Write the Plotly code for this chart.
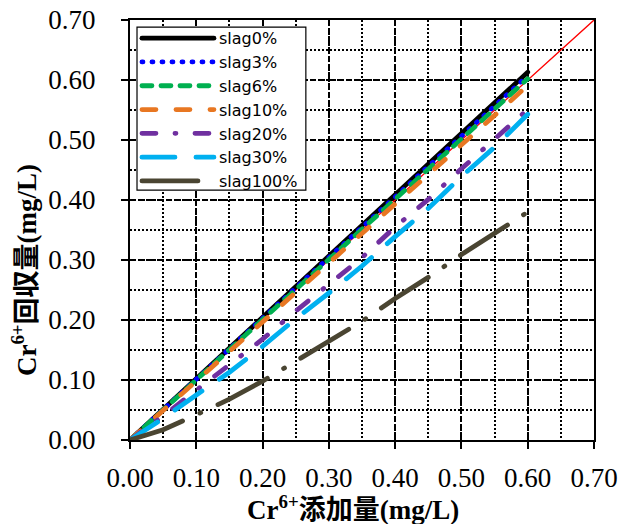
import plotly.graph_objects as go

# Cr6+ added (mg/L)
added = [0.00, 0.05, 0.10, 0.15, 0.20, 0.25, 0.30, 0.35, 0.40, 0.45, 0.50, 0.55, 0.60]

# Cr6+ recovered (mg/L) for each slag ratio
slag0 = [0.000, 0.051, 0.102, 0.153, 0.204, 0.256, 0.307, 0.358, 0.409, 0.460, 0.511, 0.562, 0.613]
slag3 = [0.000, 0.050, 0.101, 0.152, 0.203, 0.253, 0.304, 0.354, 0.405, 0.456, 0.506, 0.557, 0.607]
slag6 = [0.000, 0.050, 0.100, 0.150, 0.200, 0.250, 0.300, 0.351, 0.401, 0.451, 0.501, 0.552, 0.602]
slag10 = [0.000, 0.049, 0.098, 0.147, 0.196, 0.245, 0.294, 0.344, 0.393, 0.442, 0.492, 0.541, 0.591]
slag20 = [0.000, 0.040, 0.083, 0.125, 0.168, 0.215, 0.259, 0.304, 0.355, 0.401, 0.452, 0.501, 0.551]
slag30 = [0.000, 0.036, 0.075, 0.113, 0.156, 0.202, 0.245, 0.290, 0.339, 0.386, 0.439, 0.488, 0.543]
slag100 = [0.000, 0.017, 0.042, 0.068, 0.098, 0.131, 0.163, 0.198, 0.236, 0.271, 0.309, 0.345, 0.380]

names = ["slag0%", "slag3%", "slag6%", "slag10%", "slag20%", "slag30%", "slag100%"]
colors = ["#000000", "#0000FF", "#00B050", "#E87722", "#7030A0", "#00B0F0", "#4A4532"]
dashes = ["solid", "1px,9px", "10px,9px", "14px,20px", "14px,19px,1px,19px",
          "33px,21px", "56px,19px,1px,19px"]
series = [slag0, slag3, slag6, slag10, slag20, slag30, slag100]

# 1:1 reference line
ref_line = [0.0, 0.7]

tick_vals = [0.0, 0.1, 0.2, 0.3, 0.4, 0.5, 0.6, 0.7]
tick_text = ["0.00", "0.10", "0.20", "0.30", "0.40", "0.50", "0.60", "0.70"]

fig = go.Figure()
fig.add_trace(go.Scatter(x=ref_line, y=ref_line, mode="lines",
                         line=dict(color="#FF0000", width=1.3),
                         showlegend=False, hoverinfo="skip"))
for name, ys, c, d in zip(names, series, colors, dashes):
    fig.add_trace(go.Scatter(x=added, y=ys, mode="lines", name=name,
                             line=dict(color=c, width=4.8, dash=d)))

tick_font = dict(family="Liberation Serif", size=27, color="black")
axis_common = dict(
    range=[0, 0.7], tickvals=tick_vals, ticktext=tick_text,
    ticks="outside", ticklen=7, tickwidth=1.5, tickcolor="black",
    tickfont=tick_font,
    showline=True, linecolor="black", linewidth=2, mirror=True,
    showgrid=True, gridcolor="black", gridwidth=2, griddash="6px,3px",
    zeroline=False, automargin=False,
    minor=dict(dtick=0.05, tick0=0, showgrid=True, gridcolor="black",
               gridwidth=2, griddash="2px,2px"),
)
fig.update_xaxes(**axis_common, ticklabelstandoff=6)
fig.update_yaxes(**axis_common, ticklabelstandoff=20)

title_font = dict(family="Liberation Serif, Noto Sans CJK JP", size=27, color="black",
                  weight="bold")
fig.add_annotation(text="Cr<sup>6+</sup>添加量(mg/L)", xref="paper", yref="paper",
                   x=0.48, y=-0.162, xanchor="center", yanchor="middle",
                   showarrow=False, font=title_font)
fig.add_annotation(text="Cr<sup>6+</sup>回収量(mg/L)", xref="paper", yref="paper",
                   x=-0.228, y=0.405, xanchor="center", yanchor="middle",
                   textangle=-90, showarrow=False, font=title_font)

# legend frame
fig.add_shape(type="rect", xref="paper", yref="paper",
              x0=0.0151, x1=0.379, y0=0.595, y1=0.983,
              fillcolor="white", line=dict(color="black", width=1.2), layer="above")

fig.update_layout(
    width=632, height=524,
    margin=dict(l=130, r=38, t=20, b=84),
    paper_bgcolor="white", plot_bgcolor="white",
    legend=dict(x=0.015, y=0.997, xanchor="left", yanchor="top",
                bgcolor="rgba(0,0,0,0)", borderwidth=0,
                font=dict(family="DejaVu Sans", size=16, color="black"),
                itemwidth=72, tracegroupgap=0),
)

post = """
var gd = document.getElementsByClassName('plotly-graph-div')[0];
function roundCaps() {
  gd.querySelectorAll('.scatterlayer .js-line, .legend .js-line').forEach(function (p) {
    p.style.strokeLinecap = 'round';
  });
}
roundCaps();
gd.on('plotly_afterplot', roundCaps);
"""
fig.write_html("out.html", post_script=post)
